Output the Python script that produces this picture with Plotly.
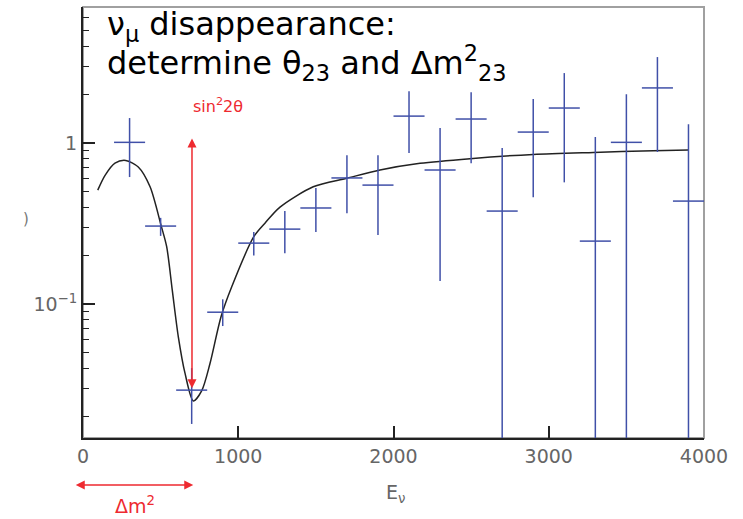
import math
import plotly.graph_objects as go

# ---- data: binned measurement (bin centres, values, error bar ends) ----
energy = [300, 500, 700, 900, 1100, 1300, 1500, 1700, 1900, 2100,
          2300, 2500, 2700, 2900, 3100, 3300, 3500, 3700, 3900]
ratio = [1.01, 0.305, 0.0292, 0.089, 0.239, 0.292, 0.395, 0.607, 0.548, 1.47,
         0.68, 1.41, 0.378, 1.17, 1.65, 0.246, 1.01, 2.2, 0.436]
ratio_hi = [1.43, 0.343, 0.040, 0.107, 0.28, 0.378, 0.525, 0.84, 0.84, 2.10,
            1.24, 2.07, 0.93, 1.88, 2.72, 1.09, 2.01, 3.42, 1.31]
ratio_lo = [0.615, 0.265, 0.018, 0.073, 0.20, 0.207, 0.28, 0.367, 0.268, 0.867,
            0.139, 0.75, 0.005, 0.46, 0.57, 0.005, 0.005, 0.88, 0.005]
bin_half = [100] * len(energy)

# ---- data: oscillation curve ----
curve_e = [95, 142, 206, 275, 356, 432, 502, 539, 575, 614, 657, 711, 765,
           818, 889, 958, 1100, 1172, 1269, 1483, 1698, 1913, 2171, 2493,
           2900, 3287, 3673, 3900]
curve_p = [0.51, 0.63, 0.75, 0.78, 0.71, 0.535, 0.31, 0.227, 0.122, 0.0626,
           0.0372, 0.025, 0.029, 0.0427, 0.0834, 0.128, 0.262, 0.318, 0.40,
           0.535, 0.604, 0.68, 0.748, 0.80, 0.85, 0.875, 0.896, 0.905]

x_ticks = [0, 1000, 2000, 3000, 4000]
y_ticks = [0.1, 1]
y_ticktext = ["10<sup>\u22121</sup>", "1"]

BLUE = "#4050A8"
RED = "#EE2A30"
GRAY = "#666666"

err_plus = [h - v for h, v in zip(ratio_hi, ratio)]
err_minus = [v - l for v, l in zip(ratio, ratio_lo)]


def py(px):
    """pixel row -> paper y"""
    return (438 - px) / 431


fig = go.Figure()
fig.add_trace(go.Scatter(
    x=curve_e, y=curve_p, mode="lines",
    line=dict(color="#222222", width=1.5, shape="spline", smoothing=0.8),
    hoverinfo="skip", showlegend=False))
fig.add_trace(go.Scatter(
    x=energy, y=ratio, mode="markers",
    marker=dict(size=0.1, color=BLUE, opacity=0),
    error_x=dict(type="data", array=bin_half, symmetric=True,
                 color=BLUE, thickness=1.5, width=0),
    error_y=dict(type="data", array=err_plus, arrayminus=err_minus,
                 symmetric=False, color=BLUE, thickness=1.5, width=0),
    showlegend=False))

fig.update_layout(
    width=743, height=519,
    margin=dict(l=83, r=39, t=7, b=81),
    paper_bgcolor="white", plot_bgcolor="white",
    font=dict(family="DejaVu Sans", color=GRAY),
    xaxis=dict(range=[0, 4000], tickvals=x_ticks, ticks="inside", ticklen=12,
               tickwidth=1.5, tickcolor="#222", showline=True,
               linecolor="#222", linewidth=2, showgrid=False, zeroline=False,
               tickfont=dict(size=19, color=GRAY, family="DejaVu Sans")),
    yaxis=dict(type="log", range=[-1.832, 0.845], tickvals=y_ticks,
               ticktext=y_ticktext, ticks="inside", ticklen=12,
               tickwidth=1.5, tickcolor="#222", showline=True,
               linecolor="#222", linewidth=2, showgrid=False, zeroline=False,
               tickfont=dict(size=19, color=GRAY, family="DejaVu Sans"),
               minor=dict(ticks="inside", ticklen=6, tickwidth=1.2,
                          tickcolor="#222", dtick="D1", showgrid=False)),
)

# frame (top / right in grey)
fig.add_shape(type="rect", xref="paper", yref="paper", x0=0, x1=1, y0=0, y1=1,
              line=dict(color="#A0A0A0", width=2), layer="below")

# title text, two lines
fig.add_annotation(xref="paper", yref="paper", x=0.036, y=py(26),
                   xanchor="left", yanchor="middle", showarrow=False,
                   text="\u03bd<sub>\u03bc</sub> disappearance:",
                   font=dict(family="DejaVu Sans", size=32, color="black"))
fig.add_annotation(xref="paper", yref="paper", x=0.036, y=py(63),
                   xanchor="left", yanchor="middle", showarrow=False,
                   text="determine \u03b8<sub>23</sub> and \u0394m<sup>2</sup><sub>23</sub>",
                   font=dict(family="DejaVu Sans", size=32, color="black"))

# sin^2 2theta arrow
fig.add_annotation(xref="x", yref="y", x=702, y=math.log10(0.030),
                   axref="x", ayref="y", ax=702, ay=math.log10(1.09),
                   showarrow=True, arrowside="end+start", arrowhead=2,
                   startarrowhead=2, arrowsize=1.2, startarrowsize=1.2,
                   arrowwidth=1.5, arrowcolor=RED, text="")
fig.add_annotation(xref="x", yref="y", x=870, y=math.log10(1.70),
                   showarrow=False, text="sin<sup>2</sup>2\u03b8",
                   font=dict(family="DejaVu Sans", size=16, color=RED))

# delta m^2 arrow below axis
fig.add_annotation(xref="x", yref="paper", x=710, y=py(485),
                   ax=-119, ay=0, showarrow=True, arrowside="end+start",
                   arrowhead=2, startarrowhead=2, arrowsize=1.2,
                   startarrowsize=1.2, arrowwidth=1.5, arrowcolor=RED, text="")
fig.add_annotation(xref="x", yref="paper", x=335, y=py(519),
                   showarrow=False, text="\u0394m<sup>2</sup>",
                   font=dict(family="DejaVu Sans", size=19, color=RED))

# x-axis title
fig.add_annotation(xref="x", yref="paper", x=2010, y=py(508),
                   showarrow=False, text="E<sub>\u03bd</sub>",
                   font=dict(family="DejaVu Sans", size=19, color=GRAY))

# cropped remnant of y title
fig.add_annotation(xref="paper", yref="paper", x=-0.1, y=py(219),
                   showarrow=False, text=")",
                   font=dict(family="DejaVu Sans", size=15, color="#777"))

fig.write_html("out.html")
